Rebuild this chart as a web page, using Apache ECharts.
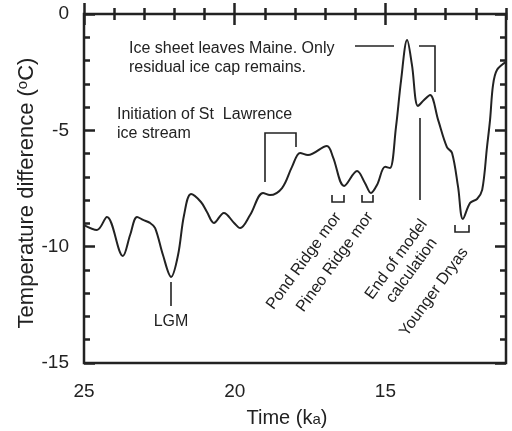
<!DOCTYPE html>
<html>
<head>
<meta charset="utf-8">
<script src="https://cdn.jsdelivr.net/npm/echarts@6/dist/echarts.min.js"></script>
<style>
html,body{margin:0;padding:0;background:#fff;}
#chart{width:512px;height:431px;}
</style>
</head>
<body>
<div id="chart"></div>
<script>
// Time (ka) and temperature difference (°C)
var timeKa = [25.0, 24.57, 24.24, 23.71, 23.47, 23.24, 23.04, 22.81, 22.64, 22.38, 22.11, 21.88, 21.68, 21.45, 21.12, 20.92, 20.69, 20.36, 20.02, 19.82, 19.49, 19.06, 18.83, 18.43, 18.10, 17.83, 17.57, 16.94, 16.74, 16.37, 15.94, 15.68, 15.48, 15.28, 15.01, 14.85, 14.65, 14.48, 14.28, 14.12, 13.92, 13.72, 13.52, 13.25, 12.96, 12.79, 12.59, 12.43, 12.19, 11.96, 11.79, 11.63, 11.53, 11.43, 11.30, 11.0];
var tempDiff = [-9.07, -9.28, -8.72, -10.40, -9.50, -8.72, -8.85, -8.98, -9.20, -10.36, -11.30, -10.36, -8.64, -7.74, -8.08, -8.51, -8.98, -8.55, -8.98, -9.20, -8.64, -7.69, -7.78, -7.48, -6.57, -5.97, -6.06, -5.67, -6.15, -7.39, -6.75, -7.26, -7.69, -7.35, -6.57, -6.62, -4.86, -2.84, -1.12, -2.19, -3.95, -3.70, -3.48, -4.56, -5.72, -5.97, -7.43, -8.81, -8.12, -7.95, -7.56, -5.72, -4.56, -3.05, -2.41, -2.06];
var xMajorTicks = [25, 20, 15];
var yTickLabels = [0, -5, -10, -15];

var chart = echarts.init(document.getElementById('chart'));
var FONT = 'Liberation Sans, Arial, sans-serif';
var INK = '#222';

var pts = timeKa.map(function (t, i) { return [t, tempDiff[i]]; });

var baseX = {
  type: 'value', min: 11, max: 25, inverse: true,
  axisLine: { show: false }, splitLine: { show: false }
};
function xAxisDef(pos, major, labels) {
  var a = Object.assign({}, baseX, {
    position: pos,
    interval: 1,
    axisTick: { show: true, inside: true, length: major ? 11 : 6, lineStyle: { color: INK, width: 2.5 } },
    axisLabel: { show: false }
  });
  if (major) {
    a.axisTick.customValues = xMajorTicks;
    if (labels) {
      a.axisLabel = { show: true, customValues: xMajorTicks, fontSize: 19, fontFamily: FONT, color: INK, margin: 19 };
    }
  }
  return a;
}
var xAxes = [
  xAxisDef('bottom', false, false),
  xAxisDef('bottom', true, true),
  xAxisDef('top', false, false),
  xAxisDef('top', true, false)
];
xAxes[1].name = 'Time (k{s|a})';
xAxes[1].nameLocation = 'middle';
xAxes[1].nameGap = 45;
xAxes[1].nameTextStyle = { fontSize: 20, fontFamily: FONT, color: INK, padding: [0, 16, 0, 0], rich: { s: { fontSize: 15, fontFamily: FONT, color: INK, padding: [4, 0, 0, 0] } } };

function yAxisDef(pos, labels) {
  return {
    type: 'value', min: -15, max: 0, interval: 5, position: pos,
    axisLine: { show: false }, splitLine: { show: false },
    axisTick: { show: true, inside: true, length: 11, lineStyle: { color: INK, width: 2.5 } },
    minorTick: { show: true, splitNumber: 5, length: 6, lineStyle: { color: INK, width: 2.5 } },
    axisLabel: labels ? { show: true, fontSize: 19, fontFamily: FONT, color: INK, margin: 15,
      formatter: function (v) { return yTickLabels.indexOf(v) >= 0 ? String(v) : ''; } } : { show: false }
  };
}
var yAxes = [yAxisDef('left', true), yAxisDef('right', false)];

var txt = function (x, y, text, rot, align) {
  return { type: 'text', x: x, y: y, rotation: (rot || 0) * Math.PI / 180,
    style: { text: text, fontSize: 16, fontFamily: FONT, fill: INK, align: align || 'center', verticalAlign: 'middle', lineHeight: 19 } };
};
var ln = function (points) {
  return { type: 'polyline', shape: { points: points }, style: { stroke: INK, lineWidth: 1.6, fill: null } };
};

chart.setOption({
  animation: false,
  grid: { left: 84, right: 6, top: 14, bottom: 68, show: true, borderColor: INK, borderWidth: 2.5, backgroundColor: 'transparent', containLabel: false, outerBoundsMode: 'none' },
  xAxis: xAxes,
  yAxis: yAxes,
  series: [{
    type: 'line', xAxisIndex: 0, yAxisIndex: 0, data: pts, smooth: 0.35, symbol: 'none',
    lineStyle: { color: INK, width: 2 }
  }],
  graphic: [
    { type: 'text', x: 27, y: 193, rotation: Math.PI / 2,
      style: { text: 'Temperature difference ({s|o}C)', fontSize: 22, fontFamily: FONT, fill: INK, align: 'center', verticalAlign: 'middle',
        rich: { s: { fontSize: 15, fontFamily: FONT, fill: INK, padding: [0, 0, 9, 0] } } } },
    txt(129, 58, 'Ice sheet leaves Maine. Only\nresidual ice cap remains.', 0, 'left'),
    ln([[355, 46], [394, 46]]),
    ln([[419, 46], [435, 46], [435, 92]]),
    txt(117, 124, 'Initiation of St  Lawrence\nice stream', 0, 'left'),
    ln([[265, 182], [265, 133], [296, 133], [296, 147]]),
    ln([[171, 282], [171, 306]]),
    txt(171, 322, 'LGM'),
    ln([[332, 195], [332, 202], [344, 202], [344, 195]]),
    ln([[362, 195], [362, 202], [373, 202], [373, 195]]),
    ln([[455, 225], [455, 232], [469, 232], [469, 225]]),
    ln([[420, 118], [420, 200]]),
    txt(304, 261, 'Pond Ridge mor', 54),
    txt(335, 262, 'Pineo Ridge mor', 54),
    txt(404, 265, 'End of model\ncalculation', 54),
    txt(434, 292, 'Younger Dryas', 54)
  ]
});
</script>
</body>
</html>
